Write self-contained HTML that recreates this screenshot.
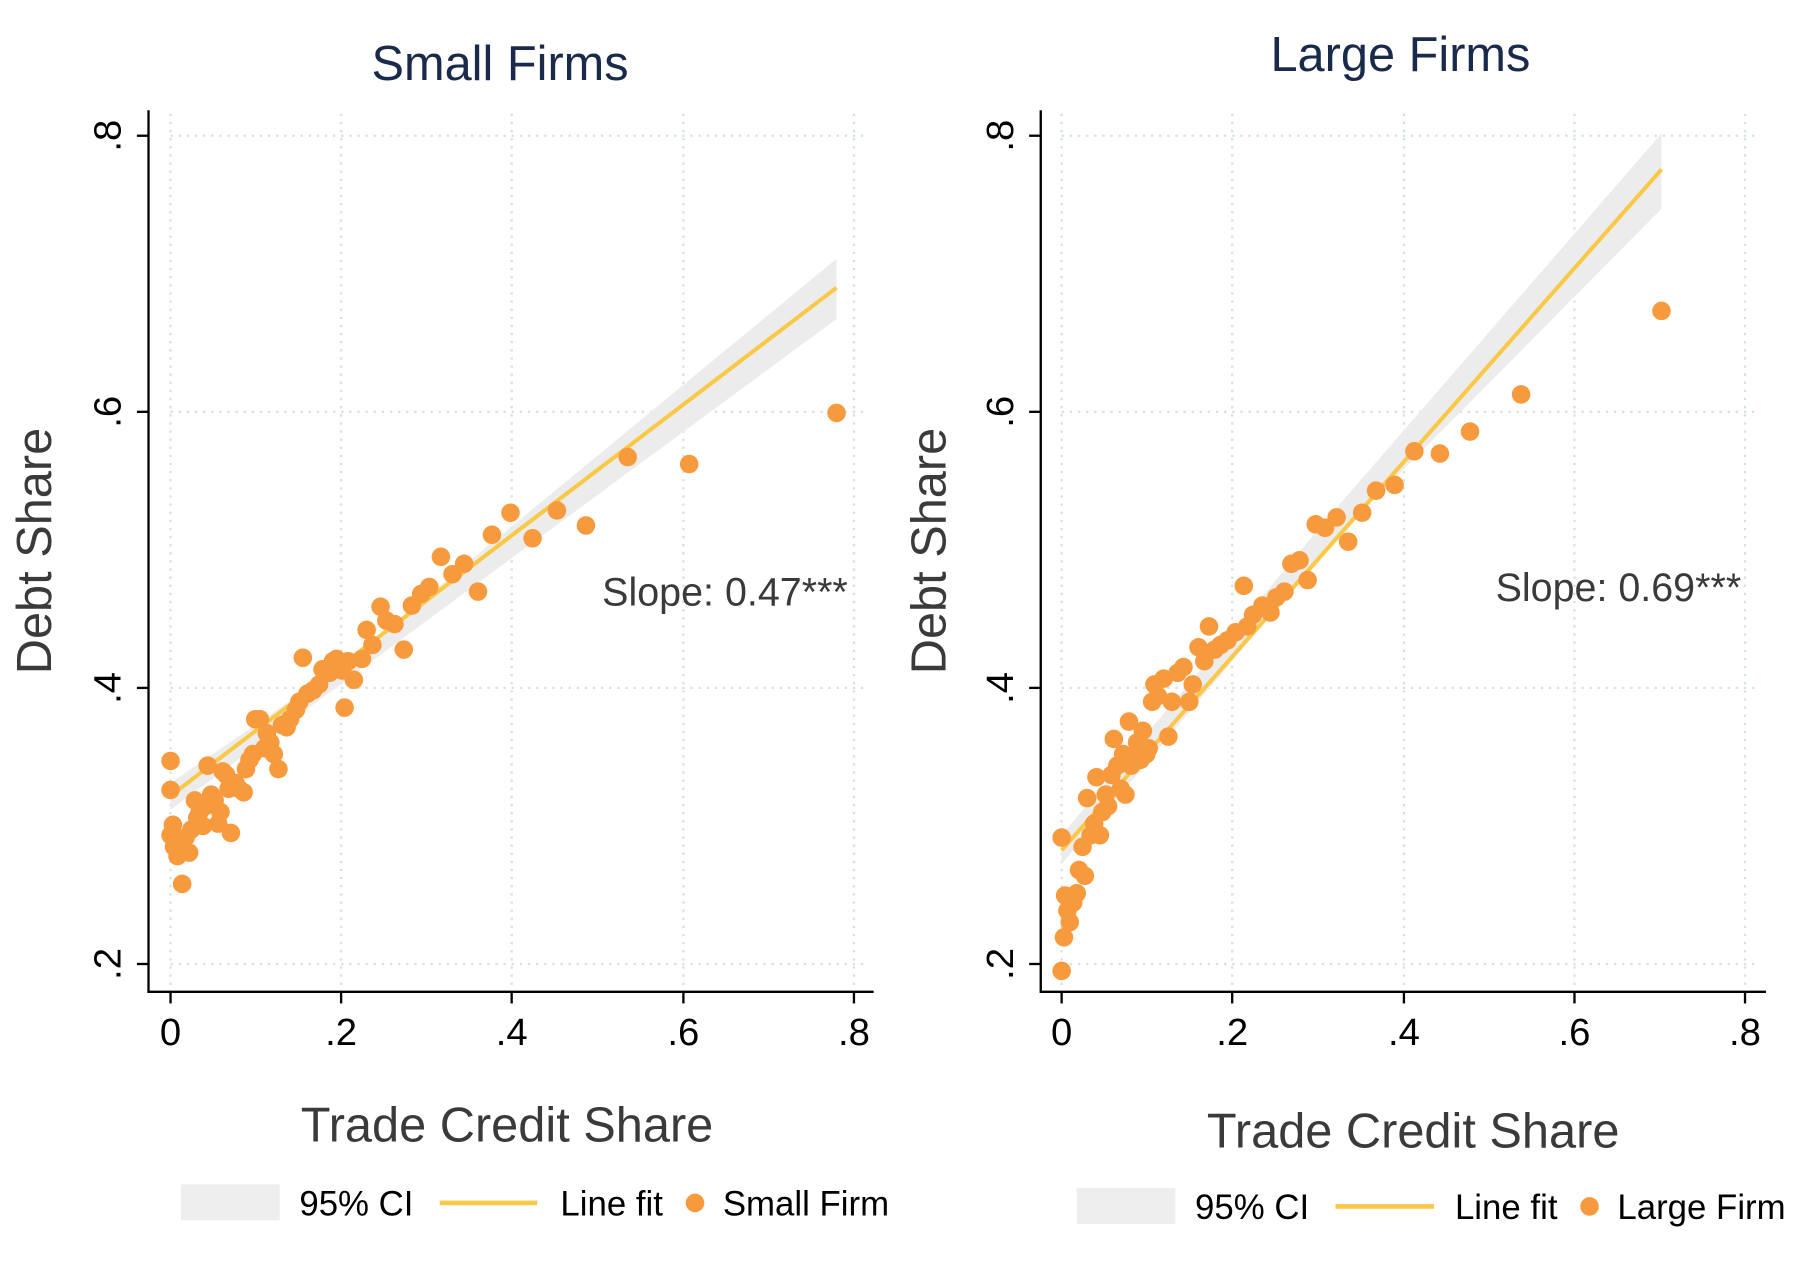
<!DOCTYPE html>
<html><head><meta charset="utf-8"><style>
html,body{margin:0;padding:0;background:#fff;width:1810px;height:1283px;overflow:hidden}
svg{display:block}
text{font-family:"Liberation Sans",sans-serif}
</style></head><body>
<svg width="1810" height="1283" viewBox="0 0 1560 1106" preserveAspectRatio="none" xmlns="http://www.w3.org/2000/svg">
<rect width="1560" height="1106" fill="#fff"/>
<g stroke="#d5e1e4" stroke-width="2" stroke-dasharray="2,5">
<line x1="147" y1="117" x2="747" y2="117"/><line x1="147" y1="355" x2="747" y2="355"/><line x1="147" y1="593" x2="747" y2="593"/><line x1="147" y1="831" x2="747" y2="831"/>
<line x1="147" y1="98" x2="147" y2="850"/><line x1="294" y1="98" x2="294" y2="850"/><line x1="441" y1="98" x2="441" y2="850"/><line x1="589" y1="98" x2="589" y2="850"/><line x1="736" y1="98" x2="736" y2="850"/>
<line x1="915" y1="117" x2="1516" y2="117"/><line x1="915" y1="355" x2="1516" y2="355"/><line x1="915" y1="593" x2="1516" y2="593"/><line x1="915" y1="831" x2="1516" y2="831"/>
<line x1="915" y1="98" x2="915" y2="850"/><line x1="1062" y1="98" x2="1062" y2="850"/><line x1="1210" y1="98" x2="1210" y2="850"/><line x1="1357" y1="98" x2="1357" y2="850"/><line x1="1504" y1="98" x2="1504" y2="850"/>
</g>
<polygon points="147,675 300,570 721,223 721,275 300,585 147,698" fill="#ececec"/>
<polygon points="915,720 1150,440 1432,115 1432,180 1150,465 915,745" fill="#ececec"/>
<line x1="147" y1="686" x2="721" y2="248" stroke="#f9c846" stroke-width="3.5"/>
<line x1="915" y1="733" x2="1432" y2="146" stroke="#f9c846" stroke-width="3.5"/>
<g fill="#f79a3e">
<circle cx="147" cy="656" r="8"/><circle cx="147" cy="681" r="8"/><circle cx="149" cy="711" r="8"/><circle cx="147" cy="720" r="8"/><circle cx="150" cy="730" r="8"/><circle cx="153" cy="738" r="8"/><circle cx="155" cy="728" r="8"/><circle cx="157" cy="762" r="8"/><circle cx="160" cy="722" r="8"/><circle cx="163" cy="735" r="8"/><circle cx="165" cy="715" r="8"/><circle cx="168" cy="690" r="8"/><circle cx="170" cy="705" r="8"/><circle cx="172" cy="700" r="8"/><circle cx="175" cy="712" r="8"/><circle cx="177" cy="695" r="8"/><circle cx="179" cy="660" r="8"/><circle cx="182" cy="685" r="8"/><circle cx="185" cy="690" r="8"/><circle cx="188" cy="710" r="8"/><circle cx="190" cy="700" r="8"/><circle cx="192" cy="665" r="8"/><circle cx="195" cy="668" r="8"/><circle cx="197" cy="680" r="8"/><circle cx="199" cy="718" r="8"/><circle cx="203" cy="675" r="8"/><circle cx="206" cy="680" r="8"/><circle cx="210" cy="683" r="8"/><circle cx="212" cy="663" r="8"/><circle cx="215" cy="655" r="8"/><circle cx="218" cy="650" r="8"/><circle cx="220" cy="620" r="8"/><circle cx="224" cy="620" r="8"/><circle cx="228" cy="645" r="8"/><circle cx="230" cy="632" r="8"/><circle cx="233" cy="640" r="8"/><circle cx="236" cy="650" r="8"/><circle cx="240" cy="663" r="8"/><circle cx="243" cy="625" r="8"/><circle cx="247" cy="627" r="8"/><circle cx="250" cy="620" r="8"/><circle cx="255" cy="612" r="8"/><circle cx="258" cy="605" r="8"/><circle cx="261" cy="567" r="8"/><circle cx="265" cy="598" r="8"/><circle cx="270" cy="595" r="8"/><circle cx="275" cy="590" r="8"/><circle cx="278" cy="577" r="8"/><circle cx="284" cy="580" r="8"/><circle cx="287" cy="570" r="8"/><circle cx="290" cy="568" r="8"/><circle cx="295" cy="578" r="8"/><circle cx="297" cy="610" r="8"/><circle cx="300" cy="570" r="8"/><circle cx="305" cy="586" r="8"/><circle cx="312" cy="568" r="8"/><circle cx="316" cy="543" r="8"/><circle cx="321" cy="556" r="8"/><circle cx="328" cy="523" r="8"/><circle cx="333" cy="535" r="8"/><circle cx="340" cy="538" r="8"/><circle cx="348" cy="560" r="8"/><circle cx="355" cy="522" r="8"/><circle cx="363" cy="512" r="8"/><circle cx="370" cy="506" r="8"/><circle cx="380" cy="480" r="8"/><circle cx="390" cy="495" r="8"/><circle cx="400" cy="486" r="8"/><circle cx="412" cy="510" r="8"/><circle cx="424" cy="461" r="8"/><circle cx="440" cy="442" r="8"/><circle cx="459" cy="464" r="8"/><circle cx="480" cy="440" r="8"/><circle cx="505" cy="453" r="8"/><circle cx="541" cy="394" r="8"/><circle cx="594" cy="400" r="8"/><circle cx="721" cy="356" r="8"/>
<circle cx="915" cy="722" r="8"/><circle cx="915" cy="837" r="8"/><circle cx="917" cy="808" r="8"/><circle cx="918" cy="772" r="8"/><circle cx="920" cy="785" r="8"/><circle cx="922" cy="795" r="8"/><circle cx="925" cy="778" r="8"/><circle cx="928" cy="770" r="8"/><circle cx="930" cy="750" r="8"/><circle cx="933" cy="730" r="8"/><circle cx="935" cy="755" r="8"/><circle cx="937" cy="688" r="8"/><circle cx="940" cy="720" r="8"/><circle cx="943" cy="710" r="8"/><circle cx="945" cy="670" r="8"/><circle cx="948" cy="720" r="8"/><circle cx="950" cy="700" r="8"/><circle cx="953" cy="685" r="8"/><circle cx="955" cy="695" r="8"/><circle cx="958" cy="668" r="8"/><circle cx="960" cy="637" r="8"/><circle cx="963" cy="660" r="8"/><circle cx="966" cy="680" r="8"/><circle cx="968" cy="650" r="8"/><circle cx="970" cy="685" r="8"/><circle cx="973" cy="622" r="8"/><circle cx="975" cy="660" r="8"/><circle cx="978" cy="650" r="8"/><circle cx="980" cy="640" r="8"/><circle cx="983" cy="655" r="8"/><circle cx="985" cy="630" r="8"/><circle cx="988" cy="650" r="8"/><circle cx="990" cy="645" r="8"/><circle cx="993" cy="605" r="8"/><circle cx="995" cy="590" r="8"/><circle cx="998" cy="600" r="8"/><circle cx="1003" cy="585" r="8"/><circle cx="1007" cy="635" r="8"/><circle cx="1010" cy="605" r="8"/><circle cx="1015" cy="580" r="8"/><circle cx="1020" cy="575" r="8"/><circle cx="1025" cy="605" r="8"/><circle cx="1028" cy="590" r="8"/><circle cx="1033" cy="558" r="8"/><circle cx="1038" cy="570" r="8"/><circle cx="1042" cy="540" r="8"/><circle cx="1047" cy="560" r="8"/><circle cx="1052" cy="556" r="8"/><circle cx="1058" cy="552" r="8"/><circle cx="1065" cy="545" r="8"/><circle cx="1072" cy="505" r="8"/><circle cx="1075" cy="540" r="8"/><circle cx="1080" cy="530" r="8"/><circle cx="1088" cy="522" r="8"/><circle cx="1095" cy="528" r="8"/><circle cx="1100" cy="515" r="8"/><circle cx="1107" cy="510" r="8"/><circle cx="1113" cy="486" r="8"/><circle cx="1120" cy="483" r="8"/><circle cx="1127" cy="500" r="8"/><circle cx="1134" cy="452" r="8"/><circle cx="1142" cy="455" r="8"/><circle cx="1152" cy="446" r="8"/><circle cx="1162" cy="467" r="8"/><circle cx="1174" cy="442" r="8"/><circle cx="1186" cy="423" r="8"/><circle cx="1202" cy="418" r="8"/><circle cx="1219" cy="389" r="8"/><circle cx="1241" cy="391" r="8"/><circle cx="1267" cy="372" r="8"/><circle cx="1311" cy="340" r="8"/><circle cx="1432" cy="268" r="8"/>
</g>
<g stroke="#000" stroke-width="2" fill="none">
<polyline points="128,95 128,855 753,855"/>
<polyline points="897,95 897,855 1522,855"/>
<line x1="118" y1="117" x2="128" y2="117"/><line x1="118" y1="355" x2="128" y2="355"/><line x1="118" y1="593" x2="128" y2="593"/><line x1="118" y1="831" x2="128" y2="831"/>
<line x1="147" y1="855" x2="147" y2="865"/><line x1="294" y1="855" x2="294" y2="865"/><line x1="441" y1="855" x2="441" y2="865"/><line x1="589" y1="855" x2="589" y2="865"/><line x1="736" y1="855" x2="736" y2="865"/>
<line x1="887" y1="117" x2="897" y2="117"/><line x1="887" y1="355" x2="897" y2="355"/><line x1="887" y1="593" x2="897" y2="593"/><line x1="887" y1="831" x2="897" y2="831"/>
<line x1="915" y1="855" x2="915" y2="865"/><line x1="1062" y1="855" x2="1062" y2="865"/><line x1="1210" y1="855" x2="1210" y2="865"/><line x1="1357" y1="855" x2="1357" y2="865"/><line x1="1504" y1="855" x2="1504" y2="865"/>
</g>
<g font-size="33" fill="#000" text-anchor="middle">
<text x="147" y="901">0</text><text x="294" y="901">.2</text><text x="441" y="901">.4</text><text x="589" y="901">.6</text><text x="736" y="901">.8</text>
<text x="915" y="901">0</text><text x="1062" y="901">.2</text><text x="1210" y="901">.4</text><text x="1357" y="901">.6</text><text x="1504" y="901">.8</text>
<text transform="translate(104,117) rotate(-90)">.8</text><text transform="translate(104,355) rotate(-90)">.6</text><text transform="translate(104,593) rotate(-90)">.4</text><text transform="translate(104,831) rotate(-90)">.2</text>
<text transform="translate(873,117) rotate(-90)">.8</text><text transform="translate(873,355) rotate(-90)">.6</text><text transform="translate(873,593) rotate(-90)">.4</text><text transform="translate(873,831) rotate(-90)">.2</text>
</g>
<g fill="#1a2a4a" font-size="42" text-anchor="middle">
<text x="431" y="69">Small Firms</text><text x="1207" y="61">Large Firms</text>
</g>
<g fill="#3a3a3a" font-size="42" text-anchor="middle">
<text transform="translate(44,475) rotate(-90)">Debt Share</text>
<text transform="translate(815,475) rotate(-90)">Debt Share</text>
<text x="437" y="984">Trade Credit Share</text>
<text x="1218" y="989">Trade Credit Share</text>
</g>
<g fill="#3a3a3a" font-size="34">
<text x="519" y="522">Slope: 0.47***</text>
<text x="1289" y="518">Slope: 0.69***</text>
</g>
<rect x="156" y="1021" width="85" height="31" fill="#eeeeee"/>
<line x1="379" y1="1037" x2="463" y2="1037" stroke="#f9c846" stroke-width="4"/>
<circle cx="599" cy="1037" r="8" fill="#f79a3e"/>
<rect x="928" y="1024" width="85" height="31" fill="#eeeeee"/>
<line x1="1151" y1="1040" x2="1236" y2="1040" stroke="#f9c846" stroke-width="4"/>
<circle cx="1370" cy="1040" r="8" fill="#f79a3e"/>
<g fill="#000" font-size="30">
<text x="258" y="1048">95% CI</text><text x="483" y="1048">Line fit</text><text x="623" y="1048">Small Firm</text>
<text x="1030" y="1051">95% CI</text><text x="1254" y="1051">Line fit</text><text x="1394" y="1051">Large Firm</text>
</g>
</svg>
</body></html>
